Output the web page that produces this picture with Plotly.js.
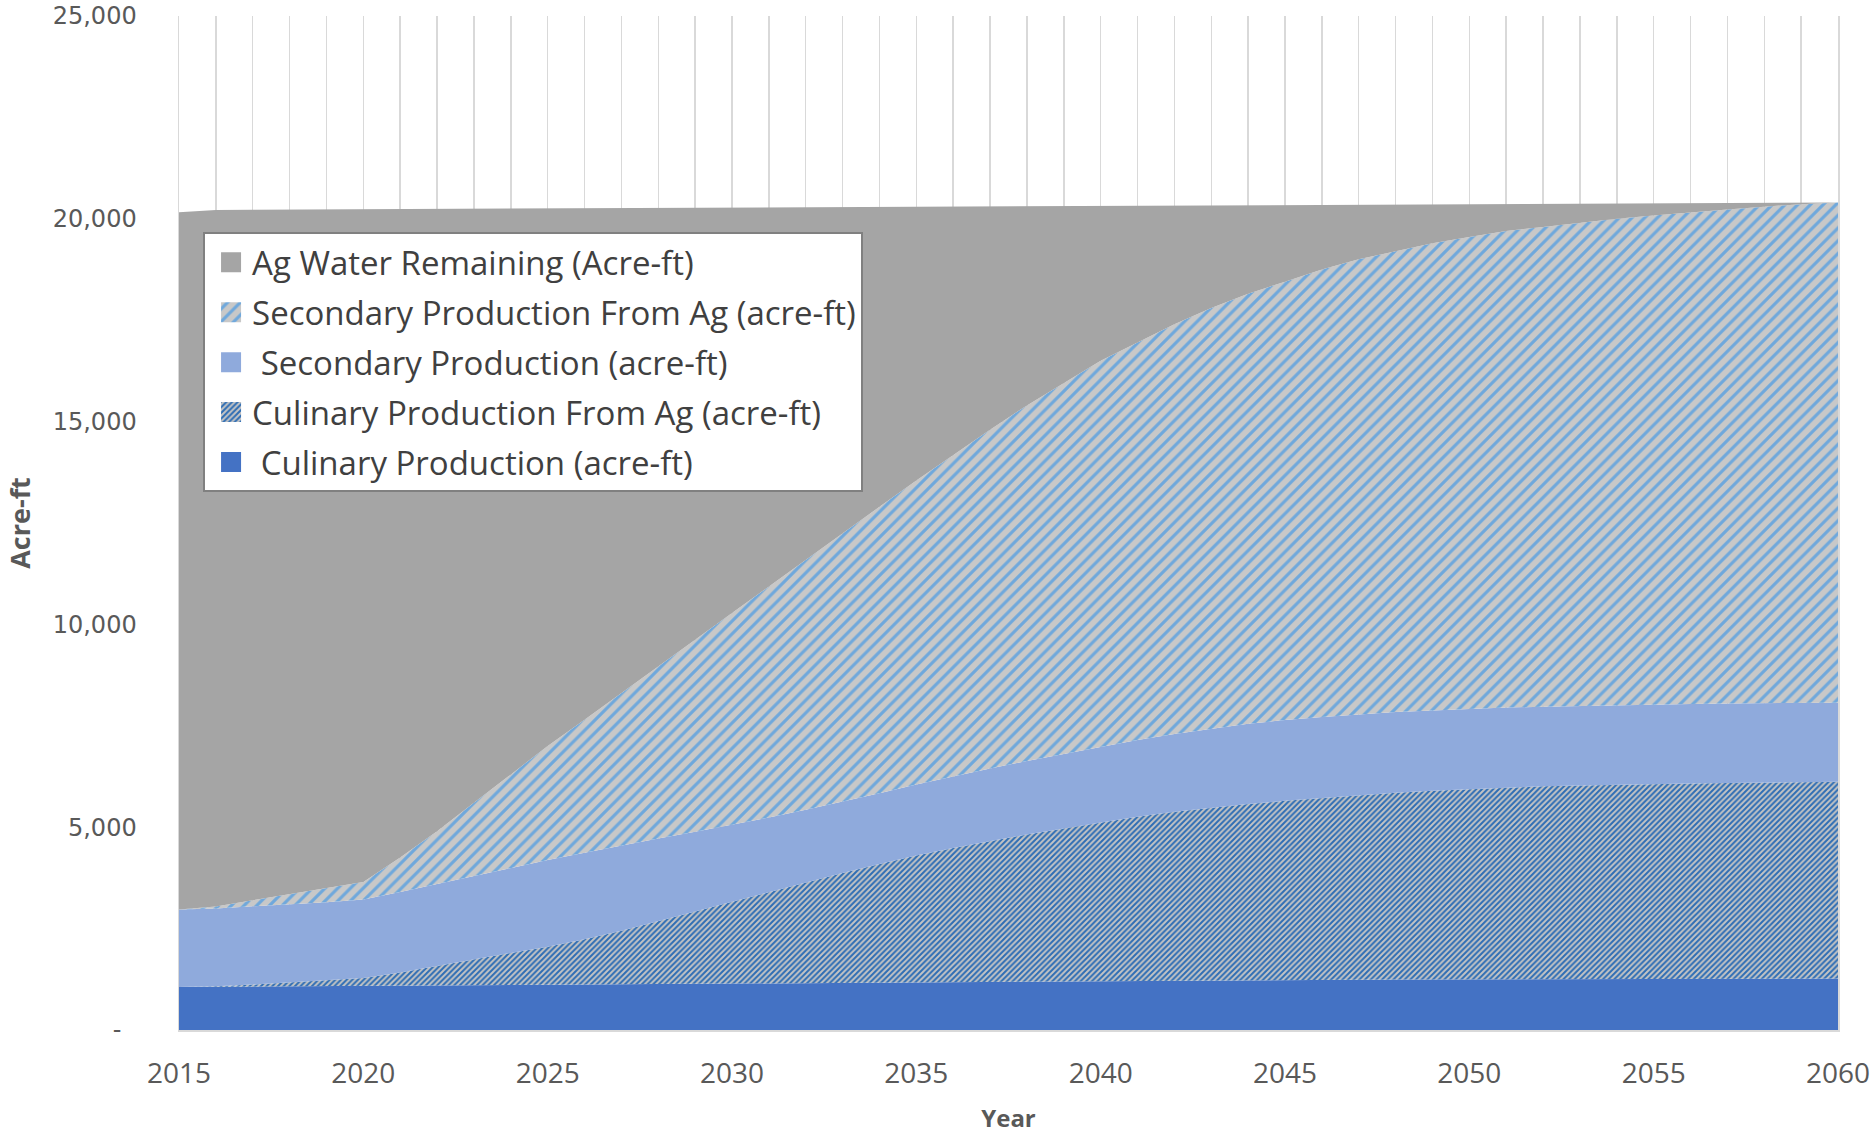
<!DOCTYPE html>
<html>
<head>
<meta charset="utf-8">
<script src="https://cdn.plot.ly/plotly-3.0.1.min.js"></script>
<style>
  html, body { margin: 0; padding: 0; background: #ffffff; }
  #chart { width: 1875px; height: 1134px; }
</style>
</head>
<body>
<div id="chart"></div>
<script>
// Years
var years = [2015,2016,2017,2018,2019,2020,2021,2022,2023,2024,2025,2026,2027,2028,2029,2030,
             2031,2032,2033,2034,2035,2036,2037,2038,2039,2040,2041,2042,2043,2044,2045,
             2046,2047,2048,2049,2050,2051,2052,2053,2054,2055,2056,2057,2058,2059,2060];

// Culinary Production (acre-ft)
var culinary = [1060,1066,1072,1078,1084,1090,1096,1102,1108,1114,1120,1126,1132,1138,1144,1150,
                1156,1162,1168,1174,1180,1186,1192,1198,1204,1210,1215,1220,1225,1230,1235,
                1238,1241,1244,1247,1250,1253,1256,1259,1262,1265,1266,1267,1268,1269,1270];

// Culinary Production From Ag (acre-ft)
var culinaryFromAg = [0,10,48,92,136,190,324,478,642,786,930,1114,1318,1542,1776,2010,
                      2244,2478,2702,2916,3120,3304,3468,3622,3766,3910,4045,4160,4255,4340,4415,
                      4482,4539,4606,4653,4690,4727,4754,4771,4788,4805,4814,4823,4832,4841,4850];

// Secondary Production (acre-ft)
var secondary = [1910,1920,1930,1930,1930,1940,1980,2020,2050,2100,2140,2130,2100,2040,1970,1900,
                 1840,1790,1760,1750,1750,1760,1790,1810,1830,1860,1890,1920,1950,1980,1990,
                 2000,2000,1990,1980,1980,1970,1960,1960,1960,1960,1960,1960,1960,1950,1950];

// Secondary Production From Ag (acre-ft)
var secondaryFromAg = [0,50,150,250,350,430,850,1300,1800,2300,2810,3280,3750,4240,4730,5220,
                       5700,6170,6620,7060,7500,7930,8350,8770,9160,9520,9800,10100,10370,10600,10810,
                       11030,11220,11360,11520,11630,11750,11830,11910,11990,12050,12120,12180,12240,12300,12330];

// Ag Water Remaining (acre-ft)
var agRemaining = [17190,17170,17024,16878,16732,16590,15994,15348,14652,13956,13260,12614,11968,11312,10656,10000,
                   9344,8688,8042,7396,6750,6124,5508,4912,4356,3820,3374,2928,2532,2186,1890,
                   1594,1348,1152,956,810,664,568,472,376,300,224,158,92,36,0];

// Tick labels
var xTickVals = [2015,2020,2025,2030,2035,2040,2045,2050,2055,2060];
var yTickVals = [0,5000,10000,15000,20000,25000];
var yTickText = ["-\u00a0\u00a0","5,000","10,000","15,000","20,000","25,000"];

var names = {
  culinary: "\u00a0Culinary Production (acre-ft)",
  culinaryFromAg: "Culinary Production From Ag (acre-ft)",
  secondary: "\u00a0Secondary Production (acre-ft)",
  secondaryFromAg: "Secondary Production From Ag (acre-ft)",
  agRemaining: "Ag Water Remaining (Acre-ft)"
};

function areaTrace(y, name, fill, pattern, group, rank) {
  var t = {
    x: years, y: y, name: name, type: 'scatter', mode: 'lines',
    stackgroup: 'one', line: {width: 0, shape: 'linear'},
    fillcolor: fill, hoverinfo: 'skip', legendgroup: group, legendrank: rank
  };
  if (pattern) t.fillpattern = pattern;
  return t;
}

var traces = [
  areaTrace(culinary, names.culinary, '#4472c4', null, 'g1', 5),
  areaTrace(culinaryFromAg, names.culinaryFromAg, '#c4c4c4',
            {shape: '/', fgcolor: '#2e6db4', bgcolor: '#c4c4c4', size: 4, solidity: 0.5}, 'g2', 4),
  areaTrace(secondary, names.secondary, '#8faadc', null, 'g3', 3),
  areaTrace(secondaryFromAg, names.secondaryFromAg, '#c8c8c8',
            {shape: '/', fgcolor: '#6fa8dc', bgcolor: '#c8c8c8', size: 9, solidity: 0.35}, 'g4', 2),
  areaTrace(agRemaining, names.agRemaining, '#a5a5a5', null, 'g5', 1)
];

var layout = {
  width: 1875, height: 1134,
  paper_bgcolor: '#ffffff', plot_bgcolor: '#ffffff',
  margin: {l: 179, r: 37, t: 16, b: 104},
  showlegend: true,
  legend: {
    x: 0.0145, y: 0.7866, xanchor: 'left', yanchor: 'top',
    bgcolor: '#ffffff', bordercolor: '#808080', borderwidth: 2,
    font: {family: 'Open Sans, sans-serif', size: 33, color: '#404040'},
    traceorder: 'grouped', tracegroupgap: 4, itemwidth: 37
  },
  xaxis: {
    range: [2015, 2060], tickvals: xTickVals, ticktext: xTickVals.map(String),
    showgrid: true, gridcolor: '#d9d9d9', gridwidth: 1.5,
    minor: {dtick: 1, tick0: 2015, showgrid: true, gridcolor: '#d9d9d9', gridwidth: 1.5},
    zeroline: false, showline: true, linecolor: '#d9d9d9', linewidth: 2,
    ticks: 'outside', ticklen: 17, tickcolor: 'rgba(0,0,0,0)',
    tickfont: {family: 'Open Sans, sans-serif', size: 28, color: '#595959'},
    title: {text: 'Year', standoff: 23, font: {family: 'Open Sans, sans-serif', size: 24, color: '#595959', weight: 'bold'}}
  },
  yaxis: {
    range: [0, 25000], tickvals: yTickVals, ticktext: yTickText,
    showgrid: true, gridcolor: '#d9d9d9', gridwidth: 1.5,
    zeroline: false, showline: true, mirror: true, linecolor: '#d9d9d9', linewidth: 1.5,
    ticks: 'outside', ticklen: 36, tickcolor: 'rgba(0,0,0,0)',
    tickfont: {family: 'DejaVu Sans, sans-serif', size: 24, color: '#595959'},
    title: {text: 'Acre-ft', standoff: 14, font: {family: 'Open Sans, sans-serif', size: 27, color: '#595959', weight: 'bold'}}
  }
};

Plotly.newPlot('chart', traces, layout, {displayModeBar: false, staticPlot: true}).then(function (gd) {
  // square legend swatches, as in the original
  var fills = gd.querySelectorAll('.legend .legendfill path');
  fills.forEach(function (p) { p.setAttribute('d', 'M16,-10h20v20h-20z'); });
});
</script>
</body>
</html>
